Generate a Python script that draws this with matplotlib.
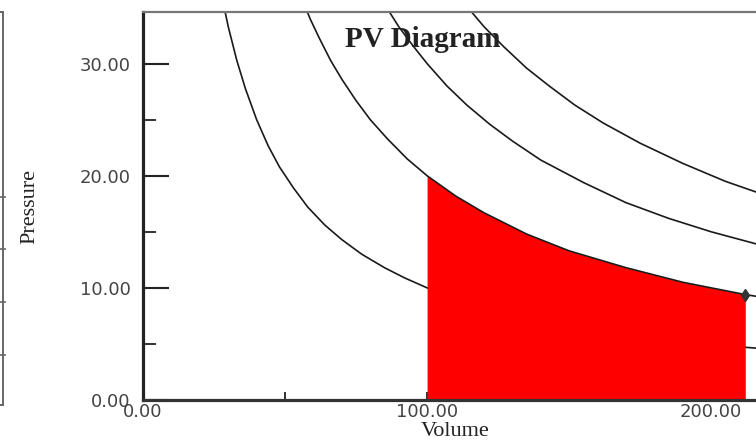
import matplotlib
matplotlib.use("Agg")
import matplotlib.pyplot as plt
from matplotlib.ticker import FixedLocator

# isotherm readings (volume, pressure)
v_iso1 = [28, 30, 33, 36, 40, 44, 48, 53, 58, 64, 70, 77, 85, 92, 100,
          115, 130, 150, 170, 190, 212, 222]
p_iso1 = [35.7, 33.3, 30.3, 27.8, 25.0, 22.7, 20.8, 18.9, 17.2, 15.6, 14.3, 13.0, 11.8, 10.9, 10.0,
          8.7, 7.7, 6.7, 5.9, 5.3, 4.7, 4.5]

v_iso2 = [56, 59, 62, 66, 70, 75, 80, 86, 93, 100, 110, 120, 135, 150, 170, 190, 212, 222]
p_iso2 = [35.7, 33.9, 32.3, 30.3, 28.6, 26.7, 25.0, 23.3, 21.5, 20.0, 18.2, 16.7, 14.8, 13.3, 11.8, 10.5, 9.4, 9.0]

v_iso3 = [85, 90, 95, 100, 107, 114, 122, 130, 140, 155, 170, 185, 200, 222]
p_iso3 = [35.3, 33.3, 31.6, 30.0, 28.0, 26.3, 24.6, 23.1, 21.4, 19.4, 17.6, 16.2, 15.0, 13.5]

v_iso4 = [114, 120, 127, 135, 143, 152, 162, 175, 190, 205, 222]
p_iso4 = [35.1, 33.3, 31.5, 29.6, 28.0, 26.3, 24.7, 22.9, 21.1, 19.5, 18.0]

# expansion along the second isotherm (shaded work area)
v_start, v_end = 100, 212

y_ticks = [0, 10, 20, 30]
y_minor = [5, 15, 25]
x_ticks = [0, 100, 200]
x_minor = [50, 150]

fig = plt.figure(figsize=(7.56, 4.45), dpi=100)

# piece of the neighbouring panel, cut off at the left edge
ax0 = fig.add_axes([-0.3, 40 / 445, 0.304, 393 / 445])
ax0.set_facecolor("none")
ax0.set_xticks([])
ax0.set_ylim(0.05, 7.5)
ax0.yaxis.tick_right()
ax0.set_yticks([1, 2, 3, 4])
ax0.set_yticklabels([])
ax0.tick_params(axis="y", direction="inout", length=4, width=1.2, color="#666")
ax0.spines["left"].set_visible(False)
for s in ["right", "top", "bottom"]:
    ax0.spines[s].set_color("#666")
    ax0.spines[s].set_linewidth(1.4)

ax = fig.add_axes([143 / 756, 45 / 445, 625 / 756, 388 / 445])
ax.set_xlim(0, 220)
ax.set_ylim(0, 34.6)

line_kw = dict(color="#1a1a1a", lw=1.2, solid_joinstyle="round")
ax.plot(v_iso1, p_iso1, zorder=2, **line_kw)
ax.plot(v_iso2, p_iso2, zorder=2.4, **line_kw)
ax.plot(v_iso3, p_iso3, zorder=2, **line_kw)
ax.plot(v_iso4, p_iso4, zorder=2, **line_kw)

v_fill = [v for v in v_iso2 if v_start <= v <= v_end]
p_fill = [p for v, p in zip(v_iso2, p_iso2) if v_start <= v <= v_end]
ax.fill_between(v_fill, p_fill, 0, color="#ff0000", lw=0, zorder=2.2)
ax.plot(v_fill[-1], p_fill[-1], marker="d", ms=6, color="#333", zorder=2.6)

ax.yaxis.set_major_locator(FixedLocator(y_ticks))
ax.yaxis.set_minor_locator(FixedLocator(y_minor))
ax.xaxis.set_major_locator(FixedLocator(x_ticks))
ax.xaxis.set_minor_locator(FixedLocator(x_minor))
ax.set_yticklabels([f"{t:.2f}" for t in y_ticks])
ax.set_xticklabels([f"{t:.2f}" for t in x_ticks])

ax.tick_params(axis="y", which="major", direction="in", length=19, width=1.5,
               color="#222", pad=9, labelsize=13, labelcolor="#444")
ax.tick_params(axis="y", which="minor", direction="in", length=9.5, width=1.3, color="#222")
ax.tick_params(axis="x", which="both", direction="in", length=6, width=1.3,
               color="#222", pad=2, labelsize=13, labelcolor="#444")

ax.spines["left"].set_linewidth(2.3)
ax.spines["left"].set_color("#222")
ax.spines["bottom"].set_linewidth(2.3)
ax.spines["bottom"].set_color("#333")
ax.spines["top"].set_linewidth(1.6)
ax.spines["top"].set_color("#777")
ax.spines["right"].set_visible(False)

ax.text(0.323, 0.91, "PV Diagram", transform=ax.transAxes, ha="left", va="baseline",
        fontsize=21, fontweight="bold", family="Liberation Serif", color="#222")

ax.set_xlabel("Volume", fontsize=16, family="Liberation Serif", color="#222")
ax.xaxis.set_label_coords(0.5, -0.082)
ax.xaxis.label.set_va("center")
ax.set_ylabel("Pressure", fontsize=16, family="Liberation Serif", color="#222")
ax.yaxis.set_label_coords(-0.181, 0.5)
ax.yaxis.label.set_va("center")

fig.savefig("out.png", dpi=100)
